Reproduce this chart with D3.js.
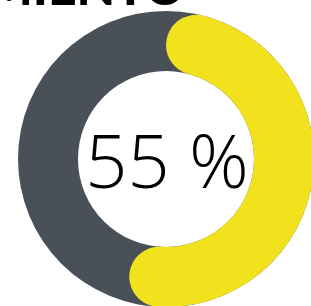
<!DOCTYPE html>
<html>
<head>
<meta charset="utf-8">
<script src="https://cdn.jsdelivr.net/npm/d3@7"></script>
<style>
    body { margin: 0; background: #fff; overflow: hidden; }
</style>
</head>
<body>
<div id="chart"></div>
<script>
"use strict";

// Data
let title = ["CUMPLIMIENTO"];
let values = [55];
let total = [100];
let label = ["55 %"];

function donut() {
    let width = 311;
    let height = 306;
    let cx = 166;
    let cy = 159;
    let outer = 148;
    let inner = 88;

    let svg = d3.select("#chart").append("svg")
        .attr("width", width).attr("height", height);

    // Title, mostly cut off at the top
    svg.append("text")
        .attr("x", 185).attr("y", 5)
        .style("text-anchor", "end")
        .style("font-family", "Lato, 'DejaVu Sans'")
        .style("font-weight", 900)
        .style("font-size", "50px")
        .style("fill", "#000")
        .text(title[0]);

    let g = svg.append("g").attr("transform", `translate(${cx},${cy})`);

    let angle = d3.scaleLinear().domain([0, total[0]]).range([0, 2 * Math.PI]);

    // Background ring
    let ring = d3.arc().innerRadius(inner).outerRadius(outer)
        .startAngle(0).endAngle(2 * Math.PI);
    g.append("path").attr("d", ring()).style("fill", "#4a5058");

    // Value arc with rounded ends
    let arc = d3.arc().innerRadius(inner).outerRadius(outer)
        .cornerRadius((outer - inner) / 2);
    g.append("path")
        .attr("d", arc({startAngle: angle(0), endAngle: angle(values[0])}))
        .style("fill", "#f2e11d");

    // Center label
    g.append("text")
        .attr("x", 1).attr("y", 29)
        .style("text-anchor", "middle")
        .style("font-family", "'Open Sans'")
        .style("font-weight", 300)
        .style("font-size", "74px")
        .style("fill", "#000")
        .text(label[0]);
}

window.onload = function () {
    donut();
};
</script>
</body>
</html>
